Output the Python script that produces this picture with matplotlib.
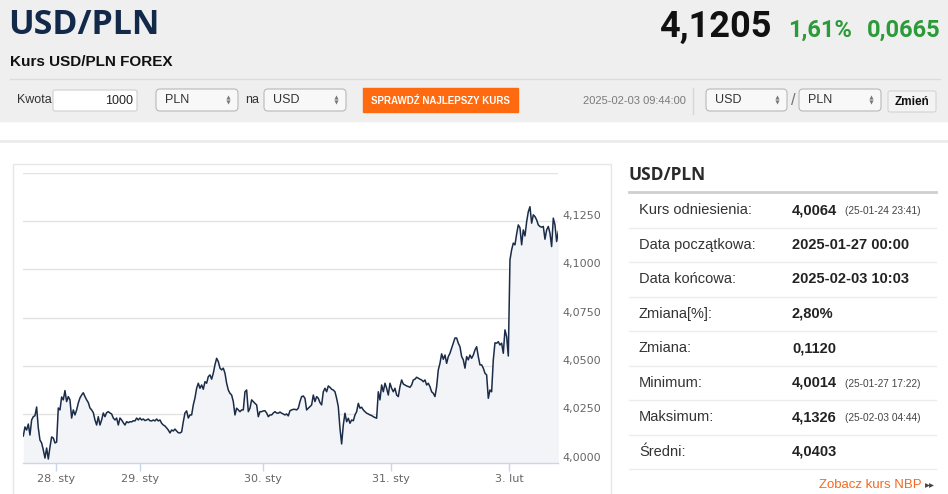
import matplotlib
matplotlib.use('Agg')
import matplotlib.pyplot as plt
import matplotlib.transforms as mtransforms
from matplotlib.patches import FancyBboxPatch, Rectangle

# - USD/PLN quotes, 2025-01-27 .. 2025-02-03 (ordinal axis, equal spacing)
usdpln = [
    4.0138, 4.0185, 4.0169, 4.0200, 4.0143, 4.0221, 4.0238, 4.0243, 4.0288, 4.0180,
    4.0117, 4.0102, 4.0066, 4.0024, 4.0076, 4.0019, 4.0081, 4.0133, 4.0128, 4.0102,
    4.0107, 4.0283, 4.0273, 4.0340, 4.0325, 4.0373, 4.0316, 4.0342, 4.0325, 4.0231,
    4.0273, 4.0247, 4.0273, 4.0309, 4.0335, 4.0350, 4.0362, 4.0342, 4.0325, 4.0311,
    4.0283, 4.0273, 4.0259, 4.0221, 4.0195, 4.0238, 4.0195, 4.0221, 4.0257, 4.0238,
    4.0259, 4.0264, 4.0257, 4.0252, 4.0231, 4.0221, 4.0231, 4.0195, 4.0231, 4.0221,
    4.0207, 4.0195, 4.0212, 4.0207, 4.0212, 4.0211, 4.0217, 4.0216, 4.0231, 4.0221,
    4.0231, 4.0221, 4.0226, 4.0218, 4.0221, 4.0226, 4.0217, 4.0216, 4.0221, 4.0216,
    4.0226, 4.0216, 4.0221, 4.0204, 4.0195, 4.0190, 4.0180, 4.0169, 4.0154, 4.0169,
    4.0164, 4.0174, 4.0164, 4.0155, 4.0154, 4.0159, 4.0212, 4.0257, 4.0268, 4.0231,
    4.0247, 4.0247, 4.0299, 4.0335, 4.0385, 4.0411, 4.0385, 4.0402, 4.0380, 4.0419,
    4.0411, 4.0445, 4.0454, 4.0432, 4.0463, 4.0506, 4.0540, 4.0523, 4.0489, 4.0480,
    4.0489, 4.0463, 4.0411, 4.0376, 4.0359, 4.0350, 4.0316, 4.0247, 4.0282, 4.0273,
    4.0264, 4.0273, 4.0273, 4.0367, 4.0376, 4.0264, 4.0282, 4.0325, 4.0316, 4.0307,
    4.0299, 4.0238, 4.0264, 4.0264, 4.0268, 4.0269, 4.0257, 4.0238, 4.0247, 4.0247,
    4.0257, 4.0264, 4.0257, 4.0256, 4.0262, 4.0256, 4.0252, 4.0247, 4.0252, 4.0242,
    4.0269, 4.0273, 4.0276, 4.0276, 4.0273, 4.0282, 4.0316, 4.0342, 4.0345, 4.0333,
    4.0273, 4.0282, 4.0290, 4.0299, 4.0350, 4.0316, 4.0342, 4.0333, 4.0311, 4.0299,
    4.0367, 4.0385, 4.0367, 4.0397, 4.0390, 4.0380, 4.0376, 4.0367, 4.0333, 4.0290,
    4.0178, 4.0097, 4.0195, 4.0256, 4.0212, 4.0230, 4.0204, 4.0221, 4.0217, 4.0247,
    4.0264, 4.0307, 4.0282, 4.0287, 4.0273, 4.0264, 4.0256, 4.0252, 4.0247, 4.0244,
    4.0238, 4.0234, 4.0230, 4.0367, 4.0325, 4.0402, 4.0367, 4.0411, 4.0385, 4.0350,
    4.0411, 4.0385, 4.0367, 4.0385, 4.0350, 4.0342, 4.0393, 4.0428, 4.0407, 4.0402,
    4.0397, 4.0394, 4.0390, 4.0402, 4.0428, 4.0432, 4.0442, 4.0437, 4.0432, 4.0428,
    4.0419, 4.0428, 4.0402, 4.0411, 4.0393, 4.0367, 4.0359, 4.0342, 4.0393, 4.0480,
    4.0514, 4.0563, 4.0535, 4.0557, 4.0514, 4.0549, 4.0566, 4.0592, 4.0618, 4.0645,
    4.0645, 4.0618, 4.0600, 4.0549, 4.0532, 4.0489, 4.0549, 4.0532, 4.0557, 4.0540,
    4.0557, 4.0583, 4.0600, 4.0549, 4.0506, 4.0506, 4.0489, 4.0463, 4.0454, 4.0333,
    4.0376, 4.0367, 4.0532, 4.0620, 4.0618, 4.0626, 4.0609, 4.0618, 4.0566, 4.0687,
    4.0652, 4.0552, 4.1049, 4.1101, 4.1136, 4.1127, 4.1183, 4.1230, 4.1215, 4.1127,
    4.1204, 4.1173, 4.1246, 4.1298, 4.1324, 4.1239, 4.1282, 4.1273, 4.1256, 4.1230,
    4.1222, 4.1218, 4.1222, 4.1156, 4.1204, 4.1222, 4.1187, 4.1118, 4.1265, 4.1230,
    4.1144, 4.1196,
]

# - day ticks (position in the ordinal point index)
day_pos = [19.6, 70, 144, 220.4, 291.4]
day_labels = ['28. sty', '29. sty', '30. sty', '31. sty', '3. lut']
y_ticks = [4.0, 4.025, 4.05, 4.075, 4.1, 4.125]
y_grid = y_ticks + [4.15]

# - stats table
stat_names = ['Kurs odniesienia:', 'Data początkowa:', 'Data końcowa:',
              'Zmiana[%]:', 'Zmiana:', 'Minimum:', 'Maksimum:', 'Średni:']
stat_values = ['4,0064', '2025-01-27 00:00', '2025-02-03 10:03', '2,80%',
               '0,1120', '4,0014', '4,1326', '4,0403']
stat_notes = ['(25-01-24 23:41)', '', '', '', '', '(25-01-27 17:22)',
              '(25-02-03 04:44)', '']

# - header quote
last_rate = '4,1205'
change_pct = '1,61%'
change_abs = '0,0665'
quote_time = '2025-02-03 09:44:00'

W, H = 948, 494
SANS = ['Liberation Sans', 'DejaVu Sans']
fig = plt.figure(figsize=(W / 100, H / 100), dpi=100)
bg = fig.add_axes([0, 0, 1, 1])
bg.set_xlim(0, W)
bg.set_ylim(H, 0)
bg.axis('off')


def draw_select(x0, x1, label):
    box = FancyBboxPatch((x0, 89), x1 - x0, 22,
                         boxstyle='round,pad=0,rounding_size=4',
                         fc='#f8f8f8', ec='#b9b9b9', lw=0.8)
    bg.add_patch(box)
    bg.text(x0 + 9, 100, label, family=SANS, fontsize=9, color='#333333',
            va='center')
    bg.plot([x1 - 10], [97.5], marker='^', ms=3, color='#777777', mew=0)
    bg.plot([x1 - 10], [102.5], marker='v', ms=3, color='#777777', mew=0)


# - header band
bg.add_patch(Rectangle((0, 0), W, 121, color='#efefef', zorder=0))
bg.plot([10, 940], [79, 79], color='#dcdcdc', lw=1)
bg.text(8, 25, 'USD/PLN', family=['Open Sans'], weight='bold',
        fontsize=24.5, color='#12294a', va='center')
bg.text(10, 62, 'Kurs USD/PLN FOREX', family=SANS, weight='bold',
        fontsize=11, color='#111111', va='center')
bg.text(772, 27, last_rate, family=['Roboto'], weight='bold', fontsize=26,
        color='#111111', va='center', ha='right')
bg.text(788, 30, change_pct, family=['Roboto'], weight='bold', fontsize=17,
        color='#2b9a38', va='center')
bg.text(941, 30, change_abs, family=['Roboto'], weight='bold', fontsize=17,
        color='#2b9a38', va='center', ha='right')

# - converter form row
bg.text(17, 100, 'Kwota', family=SANS, fontsize=9, color='#333333',
        va='center')
bg.add_patch(FancyBboxPatch((53, 90), 84, 21,
                            boxstyle='round,pad=0,rounding_size=2',
                            fc='white', ec='#cfcfcf', lw=0.8))
bg.text(133, 100.5, '1000', family=SANS, fontsize=9, color='#222222',
        va='center', ha='right')
draw_select(156, 238, 'PLN')
bg.text(245, 100, 'na', family=SANS, fontsize=9, color='#333333',
        va='center')
draw_select(264, 346, 'USD')
bg.add_patch(Rectangle((363, 88), 155, 24, color='#fd6a10'))
bg.text(440.5, 100.5, 'SPRAWDŹ NAJLEPSZY KURS', family=SANS, weight='bold',
        fontsize=7, color='white', va='center', ha='center')
bg.text(583, 101, quote_time, family=SANS, fontsize=8, color='#7a7a7a',
        va='center')
bg.plot([693, 693], [88, 114], color='#d6d6d6', lw=1)
draw_select(706, 787, 'USD')
bg.text(793, 100, '/', family=SANS, fontsize=12, color='#777777',
        va='center', ha='center')
draw_select(799, 881, 'PLN')
bg.add_patch(FancyBboxPatch((888, 91), 48, 21,
                            boxstyle='round,pad=0,rounding_size=2',
                            fc='#f3f3f3', ec='#d4d4d4', lw=0.8))
bg.text(912, 101.5, 'Zmień', family=SANS, weight='bold', fontsize=8.5,
        color='#111111', va='center', ha='center')

# - content frame
bg.plot([0, W], [141, 141], color='#ebebeb', lw=2)
bg.add_patch(Rectangle((13.5, 163.5), 598, 340, fill=False, ec='#e6e6e6',
                       lw=1))

# - stats panel
bg.text(629, 175, 'USD/PLN', family=['Open Sans'], weight='bold',
        fontsize=12.5, color='#2a2a2a', va='center')
bg.plot([629, 936], [192, 192], color='#cfcfcf', lw=2)
row_y0, row_h = 210, 34.5
for i, (name, val, note) in enumerate(zip(stat_names, stat_values,
                                          stat_notes)):
    yc = row_y0 + i * row_h
    bg.text(639, yc, name, family=SANS, fontsize=10.5, color='#333333',
            va='center')
    bg.text(792, yc, val, family=SANS, weight='bold', fontsize=10.5,
            color='#222222', va='center')
    if note:
        bg.text(845, yc + 1, note, family=SANS, fontsize=7.3,
                color='#444444', va='center')
    bg.plot([629, 936], [yc + 17.5, yc + 17.5], color='#ececec', lw=1)
bg.text(922, 485, 'Zobacz kurs NBP', family=SANS, fontsize=9.5,
        color='#f26a21', va='center', ha='right')
bg.plot([927.5], [485], marker='>', ms=3.5, color='#444444', mew=0)
bg.plot([931.5], [485], marker='>', ms=3.5, color='#444444', mew=0)

# - chart
x0, x1, yb, yt = 23.3, 558.3, 462.7, 172.7
ax = fig.add_axes([x0 / W, (H - yb) / H, (x1 - x0) / W, (yb - yt) / H])
ax.patch.set_alpha(0)
xs = list(range(len(usdpln)))
ax.fill_between(xs, usdpln, 4.0, color='#f3f4f7', lw=0, zorder=1)
ax.plot(xs, usdpln, color='#1b2c48', lw=1.1, zorder=3)
for gy in y_grid[1:]:
    ax.axhline(gy, color='#e3e3e3', lw=1, zorder=0.5)
ax.set_xlim(0, len(usdpln) - 1)
ax.set_ylim(y_grid[0], y_grid[-1])
for side in ['left', 'right', 'top']:
    ax.spines[side].set_visible(False)
ax.spines['bottom'].set_color('#ccd6eb')
ax.spines['bottom'].set_linewidth(1)
ax.set_yticks([])
ax.set_xticks(day_pos)
ax.set_xticklabels(day_labels, family=['DejaVu Sans'], fontsize=8,
                   color='#666666')
ax.tick_params(axis='x', length=6, width=1, color='#ccd6eb', pad=2)
lab_trans = mtransforms.blended_transform_factory(ax.transAxes, ax.transData)
lab_trans = lab_trans + mtransforms.ScaledTranslation(0, 5 / 100,
                                                      fig.dpi_scale_trans)
for ty in y_ticks:
    ax.text(1.007, ty, f'{ty:.4f}'.replace('.', ','), transform=lab_trans,
            family=['DejaVu Sans'], fontsize=8, color='#666666',
            va='center', ha='left', clip_on=False)

fig.savefig('out.png', dpi=100)
plt.close(fig)
